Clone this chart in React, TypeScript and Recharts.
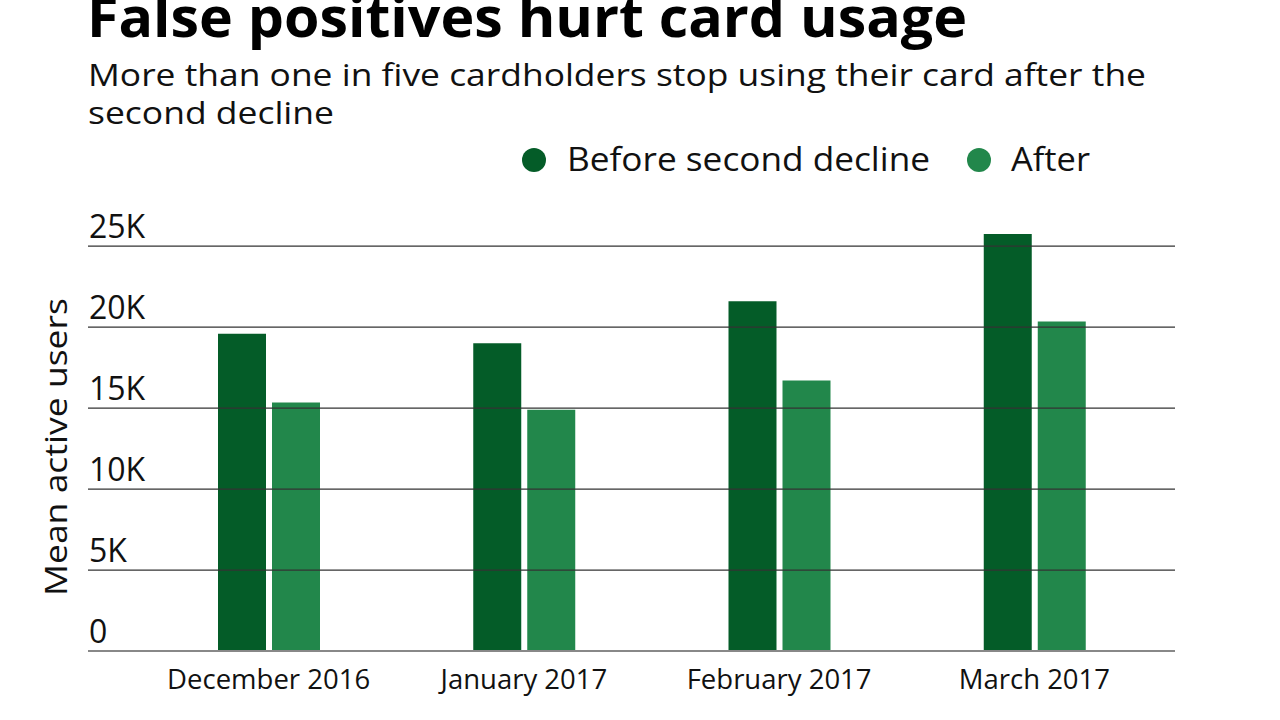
import { Bar, BarChart, ReferenceLine, XAxis, YAxis } from 'recharts'

const months = ['December 2016', 'January 2017', 'February 2017', 'March 2017']
const beforeDecline = [19600, 19000, 21600, 25750]
const afterDecline = [15350, 14900, 16700, 20350]
const yTicks = [0, 5000, 10000, 15000, 20000, 25000]

const chartData = months.map((name, i) => ({
  name,
  before: beforeDecline[i],
  after: afterDecline[i],
}))

const FONT = '"Open Sans", Lato, sans-serif'
const DARK = '#045c28'
const LIGHT = '#22874b'

const fmtK = (v: number) => (v === 0 ? '0' : `${v / 1000}K`)

function YTick({ y, payload }: any) {
  return (
    <text x={89} y={y - 8} fontSize={32} fill='#111' fontFamily={FONT} textAnchor='start'>
      {fmtK(payload.value)}
    </text>
  )
}

function XTick({ x, y, payload }: any) {
  return (
    <text x={x} y={y + 30} fontSize={27.5} fill='#111' fontFamily={FONT} textAnchor='middle'>
      {payload.value}
    </text>
  )
}

export default function App() {
  return (
    <div style={{ position: 'absolute', left: 0, top: 0, width: 1280, height: 720, background: '#fff', overflow: 'hidden' }}>
      <BarChart
        width={1280}
        height={720}
        data={chartData}
        margin={{ top: 230, right: 105, bottom: 0, left: 87 }}
        barSize={48}
        barGap={6}
      >
        {yTicks.slice(1).map((v) => (
          <ReferenceLine key={v} y={v} stroke='#333' strokeWidth={1.2} />
        ))}
        <XAxis
          dataKey='name'
          padding={{ left: 53, right: 13 }}
          tick={<XTick />}
          tickLine={false}
          axisLine={{ stroke: '#888', strokeWidth: 2 }}
          height={69}
          interval={0}
        />
        <YAxis
          domain={[0, 26000]}
          ticks={yTicks}
          width={1}
          tick={<YTick />}
          tickLine={false}
          axisLine={false}
        />
        <Bar dataKey='before' name='Before second decline' fill={DARK} isAnimationActive={false} />
        <Bar dataKey='after' name='After' fill={LIGHT} isAnimationActive={false} />
      </BarChart>
      <svg
        width={1280}
        height={720}
        style={{ position: 'absolute', left: 0, top: 0, pointerEvents: 'none' }}
        fontFamily={FONT}
      >
        <text x={87} y={37} fontSize={55} fontWeight={700} fill='#000' textLength={880} lengthAdjust='spacingAndGlyphs'>
          False positives hurt card usage
        </text>
        <text x={88} y={86} fontSize={31} fill='#111' textLength={1058} lengthAdjust='spacingAndGlyphs'>
          More than one in five cardholders stop using their card after the
        </text>
        <text x={88} y={124} fontSize={31} fill='#111' textLength={246} lengthAdjust='spacingAndGlyphs'>
          second decline
        </text>
        <circle cx={534} cy={160} r={12} fill={DARK} />
        <text x={567} y={171} fontSize={32} fill='#111' textLength={363} lengthAdjust='spacingAndGlyphs'>
          Before second decline
        </text>
        <circle cx={979} cy={160} r={12} fill={LIGHT} />
        <text x={1011} y={171} fontSize={32} fill='#111' textLength={79} lengthAdjust='spacingAndGlyphs'>
          After
        </text>
        <text
          x={0}
          y={0}
          fontSize={31}
          fill='#111'
          textAnchor='middle'
          textLength={298}
          lengthAdjust='spacingAndGlyphs'
          transform='translate(67 447) rotate(-90)'
        >
          Mean active users
        </text>
      </svg>
    </div>
  )
}
